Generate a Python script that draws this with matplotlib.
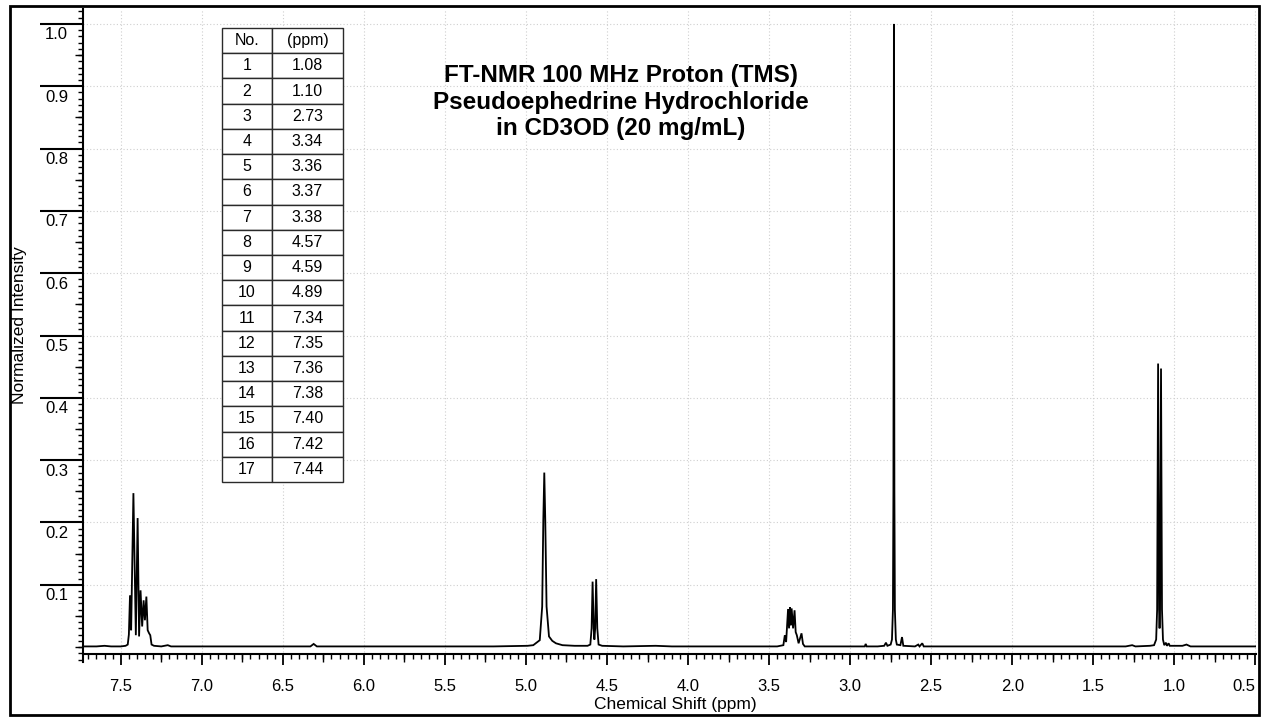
import matplotlib
matplotlib.use('Agg')
import matplotlib.pyplot as plt
from matplotlib.ticker import FixedLocator, MultipleLocator
from matplotlib.transforms import ScaledTranslation
import matplotlib.patches as mpatches

plt.rcParams['font.family'] = ['Liberation Sans', 'DejaVu Sans']

# ---------------- data ----------------
shift_ppm = [7.733, 7.65, 7.60, 7.56, 7.50, 7.470, 7.457, 7.450, 7.443, 7.436,
             7.422, 7.407, 7.396, 7.387, 7.378, 7.368, 7.359, 7.351, 7.342, 7.334,
             7.325, 7.318, 7.310, 7.295, 7.25, 7.21, 7.19, 7.10, 6.90, 6.60,
             6.33, 6.31, 6.29, 6.00, 5.50, 5.20, 4.99, 4.955, 4.915, 4.900,
             4.893, 4.887, 4.881, 4.873, 4.858, 4.838, 4.815, 4.775, 4.70, 4.62,
             4.603, 4.595, 4.589, 4.582, 4.578, 4.573, 4.567, 4.560, 4.552, 4.53,
             4.40, 4.20, 4.10, 3.80, 3.60, 3.45, 3.412, 3.403, 3.395, 3.383,
             3.377, 3.371, 3.366, 3.361, 3.352, 3.343, 3.336, 3.329, 3.318, 3.300,
             3.291, 3.280, 3.20, 3.05, 2.95, 2.910, 2.904, 2.898, 2.83, 2.79,
             2.779, 2.770, 2.750, 2.742, 2.736, 2.733, 2.730, 2.727, 2.724, 2.718,
             2.712, 2.690, 2.680, 2.672, 2.60, 2.580, 2.572, 2.555, 2.546, 2.45,
             2.20, 2.00, 1.80, 1.50, 1.30, 1.26, 1.24, 1.15, 1.125, 1.112,
             1.106, 1.100, 1.094, 1.091, 1.088, 1.082, 1.076, 1.070, 1.062, 1.052,
             1.045, 1.035, 1.028, 0.95, 0.925, 0.90, 0.70, 0.496]
intensity = [0.001, 0.001, 0.002, 0.001, 0.001, 0.002, 0.004, 0.020, 0.083, 0.027,
             0.247, 0.019, 0.207, 0.017, 0.091, 0.033, 0.075, 0.043, 0.081, 0.027,
             0.022, 0.019, 0.004, 0.002, 0.001, 0.003, 0.001, 0.001, 0.001, 0.001,
             0.001, 0.005, 0.001, 0.001, 0.001, 0.001, 0.002, 0.003, 0.011, 0.065,
             0.204, 0.280, 0.204, 0.065, 0.017, 0.010, 0.006, 0.003, 0.002, 0.002,
             0.004, 0.030, 0.105, 0.030, 0.012, 0.030, 0.109, 0.030, 0.004, 0.002,
             0.001, 0.002, 0.001, 0.001, 0.001, 0.001, 0.003, 0.019, 0.008, 0.061,
             0.030, 0.064, 0.035, 0.062, 0.030, 0.059, 0.024, 0.019, 0.006, 0.022,
             0.005, 0.001, 0.001, 0.001, 0.001, 0.001, 0.005, 0.001, 0.001, 0.002,
             0.007, 0.002, 0.004, 0.012, 0.060, 0.250, 1.000, 0.250, 0.060, 0.012,
             0.004, 0.003, 0.016, 0.002, 0.001, 0.004, 0.001, 0.006, 0.001, 0.001,
             0.001, 0.001, 0.001, 0.001, 0.001, 0.003, 0.001, 0.002, 0.003, 0.012,
             0.060, 0.455, 0.060, 0.030, 0.060, 0.447, 0.060, 0.012, 0.003, 0.007,
             0.002, 0.006, 0.002, 0.002, 0.004, 0.001, 0.001, 0.001]

peak_no = [1, 2, 3, 4, 5, 6, 7, 8, 9, 10, 11, 12, 13, 14, 15, 16, 17]
peak_ppm = ['1.08', '1.10', '2.73', '3.34', '3.36', '3.37', '3.38', '4.57', '4.59',
            '4.89', '7.34', '7.35', '7.36', '7.38', '7.40', '7.42', '7.44']
table_header = ['No.', '(ppm)']

x_tick_values = [7.5, 7.0, 6.5, 6.0, 5.5, 5.0, 4.5, 4.0, 3.5, 3.0, 2.5, 2.0, 1.5, 1.0, 0.5]
x_tick_labels = ['7.5', '7.0', '6.5', '6.0', '5.5', '5.0', '4.5', '4.0', '3.5', '3.0',
                 '2.5', '2.0', '1.5', '1.0', '0.5']
y_tick_values = [0.1, 0.2, 0.3, 0.4, 0.5, 0.6, 0.7, 0.8, 0.9, 1.0]
y_tick_labels = ['0.1', '0.2', '0.3', '0.4', '0.5', '0.6', '0.7', '0.8', '0.9', '1.0']
x_mid_ticks = [7.25, 6.75, 6.25, 5.75, 5.25, 4.75, 4.25, 3.75, 3.25, 2.75, 2.25, 1.75,
               1.25, 0.75]
y_mid_ticks = [0.0, 0.05, 0.15, 0.25, 0.35, 0.45, 0.55, 0.65, 0.75, 0.85, 0.95]

title_lines = ['FT-NMR 100 MHz Proton (TMS)', 'Pseudoephedrine Hydrochloride',
               'in CD3OD (20 mg/mL)']
x_label = 'Chemical Shift (ppm)'
y_label = 'Normalized Intensity'

# ---------------- layout ----------------
W, H = 1262, 717
DPI = 100
fig = plt.figure(figsize=(W / DPI, H / DPI), dpi=DPI)
fig.patch.set_facecolor('white')

ax_l, ax_r, ax_t, ax_b = 83, 1256, 9, 662
ax = fig.add_axes([ax_l / W, 1 - ax_b / H, (ax_r - ax_l) / W, (ax_b - ax_t) / H])
ax.set_facecolor('white')

x_lo, x_hi = 7.733, 0.496
y_lo, y_hi = -0.024, 1.024
x_axis_y = -0.0112

ax.plot(shift_ppm, intensity, color='black', lw=1.3, solid_joinstyle='miter', zorder=3)
ax.set_xlim(x_lo, x_hi)
ax.set_ylim(y_lo, y_hi)

for s in ['top', 'right']:
    ax.spines[s].set_visible(False)
ax.spines['left'].set_linewidth(1.5)
ax.spines['bottom'].set_linewidth(1.5)
ax.spines['bottom'].set_position(('data', x_axis_y))

px = 72 / DPI  # points per pixel

# x ticks
ax.xaxis.set_major_locator(FixedLocator(x_tick_values))
ax.set_xticklabels(x_tick_labels)
ax.xaxis.set_minor_locator(MultipleLocator(0.05))
ax.tick_params(axis='x', which='major', direction='out', length=11 * px, width=1.3,
               labelsize=12, pad=14 * px, colors='black')
ax.tick_params(axis='x', which='minor', direction='out', length=5 * px, width=1.0)
ax.get_xticklabels()[-1].set_horizontalalignment('right')

# y ticks (long major lines, labels drawn under the lines)
ax.yaxis.set_major_locator(FixedLocator(y_tick_values))
ax.yaxis.set_minor_locator(MultipleLocator(0.01))
ax.tick_params(axis='y', which='major', direction='out', length=43 * px, width=1.5,
               labelleft=False)
ax.tick_params(axis='y', which='minor', direction='out', length=5 * px, width=1.0)
ylab_tr = ax.get_yaxis_transform() + ScaledTranslation(-15 / DPI, -11 / DPI, fig.dpi_scale_trans)
for v, lab in zip(y_tick_values, y_tick_labels):
    ax.text(0, v, lab, transform=ylab_tr, ha='right', va='center', fontsize=12,
            clip_on=False)

# medium ticks
sec_x = ax.secondary_xaxis((x_axis_y - y_lo) / (y_hi - y_lo))
sec_x.set_xticks(x_mid_ticks)
sec_x.tick_params(axis='x', direction='out', length=8 * px, width=1.0, labelbottom=False,
                  labeltop=False)
for s in sec_x.spines.values():
    s.set_visible(False)
sec_y = ax.secondary_yaxis(0)
sec_y.set_yticks(y_mid_ticks)
sec_y.tick_params(axis='y', direction='out', length=8 * px, width=1.0, labelleft=False,
                  labelright=False)
for s in sec_y.spines.values():
    s.set_visible(False)

# grid
ax.grid(True, which='major', color='#cfcfcf', linestyle=(0, (1, 2)), linewidth=0.8)
ax.set_axisbelow(True)

# table
cell_text = [[str(n), p] for n, p in zip(peak_no, peak_ppm)]
tb_l, tb_r, tb_t, tb_b = 222, 343, 28, 482
bbox = [(tb_l - ax_l) / (ax_r - ax_l), (ax_b - tb_b) / (ax_b - ax_t),
        (tb_r - tb_l) / (ax_r - ax_l), (tb_b - tb_t) / (ax_b - ax_t)]
tbl = ax.table(cellText=cell_text, colLabels=table_header, cellLoc='center',
               colLoc='center', colWidths=[50, 71], bbox=bbox, zorder=5)
tbl.auto_set_font_size(False)
tbl.set_fontsize(11.5)
for cell in tbl.get_celld().values():
    cell.set_linewidth(1.0)
    cell.set_edgecolor('#2a2a2a')
    cell.set_facecolor('white')

# title
ax.text((620.5 - ax_l) / (ax_r - ax_l), (ax_b - 102) / (ax_b - ax_t), '\n'.join(title_lines),
        transform=ax.transAxes, ha='center', va='center', multialignment='center',
        fontsize=17.5, fontweight='bold', linespacing=1.2, zorder=6)

# axis labels
fig.text(675 / W, 1 - 704 / H, x_label, ha='center', va='center', fontsize=12.5)
fig.text(20 / W, 1 - 325 / H, y_label, ha='center', va='center', rotation=90, fontsize=12.5)

# outer frame
fig.patches.append(mpatches.Rectangle((10 / W, 2 / H), 1249 / W, 709 / H, fill=False,
                                      lw=2, edgecolor='black', transform=fig.transFigure,
                                      figure=fig))

fig.savefig('out.png', dpi=DPI)
